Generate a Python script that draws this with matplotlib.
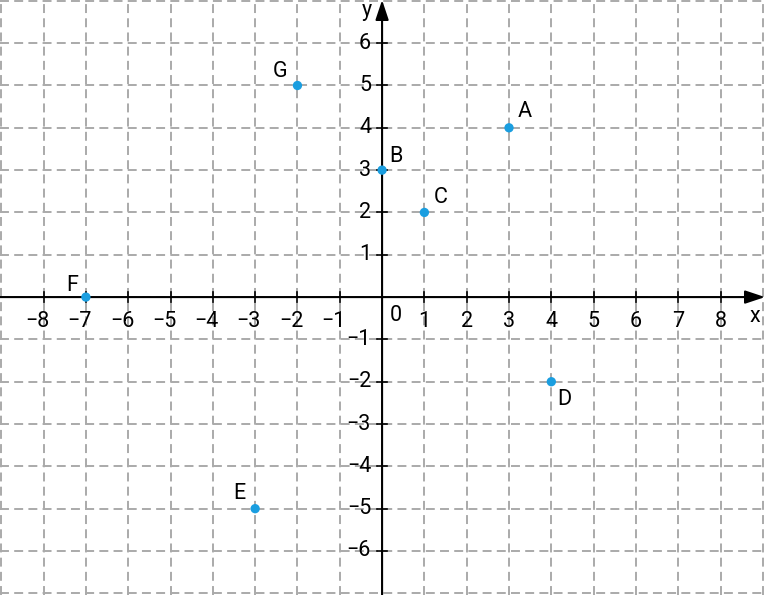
import matplotlib
matplotlib.use("Agg")
import matplotlib.pyplot as plt

names = ["A", "B", "C", "D", "E", "F", "G"]
xs = [3, 0, 1, 4, -3, -7, -2]
ys = [4, 3, 2, -2, -5, 0, 5]
# label offsets in pixels (dx, dy) relative to point
label_dx = [16, 14, 16, 13, -16, -14, -17]
label_dy = [16, 14, 15, -18, 15, 12, 14]

x_ticks = [-8, -7, -6, -5, -4, -3, -2, -1, 1, 2, 3, 4, 5, 6, 7, 8]
y_ticks = [-6, -5, -4, -3, -2, -1, 1, 2, 3, 4, 5, 6]

plt.rcParams['font.family'] = ['Roboto', 'DejaVu Sans']

fig = plt.figure(figsize=(7.65, 5.95), dpi=100)
ax = fig.add_axes([0, 0, 1, 1])
ax.set_xlim(-9.03, 9.05)
ax.set_ylim(-7.04, 7.02)
ax.axis('off')

grid_kw = dict(color='#aaaaaa', lw=1.4, ls=(0, (4.6, 2.7)), zorder=1)
for gx in range(-9, 10):
    ax.axvline(gx, **grid_kw)
for gy in range(-7, 8):
    ax.axhline(gy, **grid_kw)

# axes with arrows
ax.annotate('', xy=(9.05, 0), xytext=(-9.03, 0),
            arrowprops=dict(arrowstyle='-|>,head_length=1.2,head_width=0.4',
                            color='black', lw=1.5, mutation_scale=10,
                            shrinkA=0, shrinkB=0), zorder=3)
ax.annotate('', xy=(0, 7.02), xytext=(0, -7.04),
            arrowprops=dict(arrowstyle='-|>,head_length=1.2,head_width=0.4',
                            color='black', lw=1.5, mutation_scale=10,
                            shrinkA=0, shrinkB=0), zorder=3)

fs = 15.5
px = 1 / 42.3
for t in x_ticks:
    ax.plot([t, t], [-5 * px, 5 * px], color='black', lw=1.2, zorder=3)
    lab = f"\u2212{abs(t)}" if t < 0 else f"{t}"
    if t < 0:
        ax.text(t + 0.14, -24 * px, lab, ha='right', va='center', fontsize=fs)
    else:
        ax.text(t, -24 * px, lab, ha='center', va='center', fontsize=fs)
for t in y_ticks:
    ax.plot([-5 * px, 5 * px], [t, t], color='black', lw=1.2, zorder=3)
    lab = f"\u2212{abs(t)}" if t < 0 else f"{t}"
    ax.text(-11 * px, t, lab, ha='right', va='center', fontsize=fs)

ax.text(14 * px, -18 * px, "0", ha='center', va='center', fontsize=fs)
ax.text(8.8, -19 * px, "x", ha='center', va='center', fontsize=fs)
ax.text(-15 * px, 6.78, "y", ha='center', va='center', fontsize=fs)

ax.scatter(xs, ys, s=45, color='#1a9ee0', zorder=4, edgecolors='none')
for n, x, y, dx, dy in zip(names, xs, ys, label_dx, label_dy):
    ax.text(x + dx * px, y + dy * px, n, ha='center', va='center', fontsize=fs)

fig.savefig('out.png', dpi=100)
